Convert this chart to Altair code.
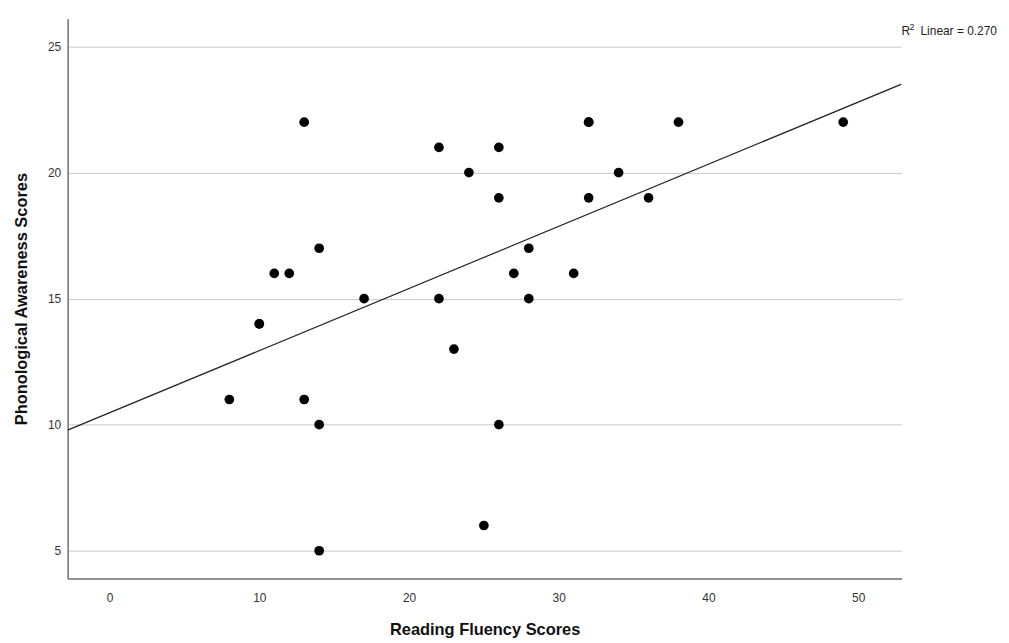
import altair as alt
import pandas as pd

reading = [8, 10, 10, 11, 12, 13, 13, 14, 14, 14, 17, 22, 22, 23, 24, 25, 26, 26, 26,
           27, 28, 28, 31, 32, 32, 32, 34, 36, 38, 49]
phono = [11, 14, 14, 16, 16, 22, 11, 17, 10, 5, 15, 21, 15, 13, 20, 6, 21, 19, 10,
         16, 17, 15, 16, 22, 22, 19, 20, 19, 22, 22]
x_ticks = [0, 10, 20, 30, 40, 50]
y_ticks = [5, 10, 15, 20, 25]
x_domain = [-2.8, 52.9]
y_domain = [3.9, 26.1]
r2_parts = ["R", "2", "Linear = 0.270"]

df = pd.DataFrame({"reading": reading, "phono": phono})

W, H = 839, 563
FONT = "Liberation Sans"

xs = alt.Scale(domain=x_domain, nice=False, zero=False)
ys = alt.Scale(domain=y_domain, nice=False, zero=False)

x_axis = alt.Axis(values=x_ticks, grid=False, ticks=False, labelPadding=14,
                  title="Reading Fluency Scores", titlePadding=18,
                  domainColor="#6e6e6e", domainWidth=1.5)
y_axis = alt.Axis(values=y_ticks, grid=True, gridColor="#c8c8c8", gridWidth=1,
                  ticks=False, labelPadding=7,
                  title="Phonological Awareness Scores", titlePadding=18,
                  domainColor="#6e6e6e", domainWidth=1.5)

base = alt.Chart(df)

points = base.mark_circle(size=95, color="black", opacity=1).encode(
    x=alt.X("reading:Q", scale=xs, axis=x_axis),
    y=alt.Y("phono:Q", scale=ys, axis=y_axis),
)

line = base.transform_regression(
    "reading", "phono", extent=x_domain
).mark_line(color="#222222", strokeWidth=1.2, clip=True).encode(
    x=alt.X("reading:Q", scale=xs),
    y=alt.Y("phono:Q", scale=ys),
)

def txt(s, xpos, ypos, size):
    return alt.Chart(pd.DataFrame({"t": [s]})).mark_text(
        align="left", baseline="middle", fontSize=size, font=FONT, color="#222222"
    ).encode(x=alt.value(xpos), y=alt.value(ypos), text="t:N")

label = txt(r2_parts[0], W, 12, 12) + txt(r2_parts[1], W + 8, 8, 9) + txt(r2_parts[2], W + 19, 12, 12)

chart = alt.layer(line, points, label).properties(
    width=W, height=H,
    autosize=alt.AutoSizeParams(type="none"),
    padding={"left": 60, "top": 9, "right": 100, "bottom": 60},
).configure_view(stroke=None).configure_axis(
    labelFont=FONT, labelFontSize=12, labelColor="#333333",
    titleFont=FONT, titleFontSize=16.5, titleFontWeight="bold", titleColor="#111111",
)

chart.save("out.html", embed_options={"renderer": "svg", "actions": False})
